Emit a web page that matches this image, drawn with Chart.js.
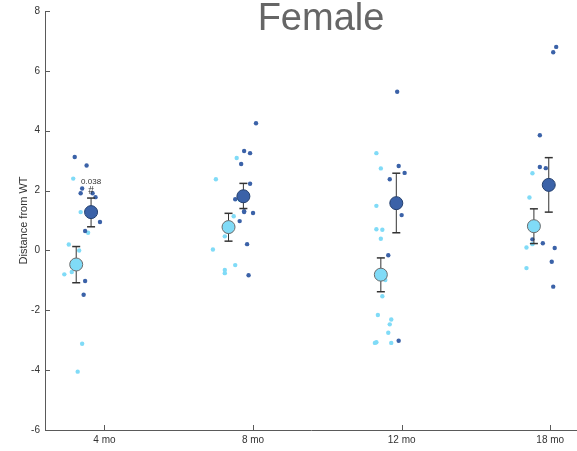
<!DOCTYPE html>
<html>
<head>
<meta charset="utf-8">
<script src="https://cdn.jsdelivr.net/npm/chart.js@4.4.0/dist/chart.umd.min.js"></script>
<style>
  html, body { margin: 0; padding: 0; background: #fff; }
  #wrap { position: relative; width: 577px; height: 451px; }
</style>
</head>
<body>
<div id="wrap"><canvas id="chart" width="577" height="451"></canvas></div>
<script>
/* ── Données ── */
const TITLE = 'Female';
const CATEGORIES = ['4 mo', '8 mo', '12 mo', '18 mo'];
const CATEGORY_POS = [1, 2, 3, 4];
const Y_TICKS = [-6, -4, -2, 0, 2, 4, 6, 8];

// individual animals, light series (x = jittered position)
const lightX = [0.79, 0.84, 0.89, 0.76, 0.83, 0.78, 0.73, 0.85, 0.82,
                1.89, 1.75, 1.91, 1.87, 1.81, 1.73, 1.88, 1.81, 1.81,
                2.83, 2.86, 2.83, 2.83, 2.87, 2.86, 2.89, 2.87, 2.84, 2.93, 2.92, 2.91, 2.82, 2.83, 2.93,
                3.88, 3.86, 3.88, 3.84, 3.84];
const lightY = [2.40, 1.28, 0.59, 0.20, 0.00, -0.72, -0.80, -3.12, -4.05,
                3.09, 2.38, 1.69, 1.14, 0.47, 0.03, -0.49, -0.65, -0.76,
                3.25, 2.74, 1.49, 0.71, 0.69, 0.39, -0.99, -1.53, -2.16, -2.31, -2.47, -2.75, -3.09, -3.07, -3.09,
                2.58, 1.77, 0.21, 0.10, -0.59];

// individual animals, dark series
const darkX = [0.80, 0.88, 0.85, 0.84, 0.92, 0.94, 0.97, 0.87, 0.87, 0.86,
               2.02, 1.94, 1.98, 1.92, 1.98, 1.88, 1.94, 1.94, 2.00, 1.91, 1.96, 1.97,
               2.97, 2.98, 3.02, 2.92, 3.00, 2.91, 2.98,
               4.04, 4.02, 3.93, 3.93, 3.97, 3.88, 3.95, 4.03, 4.01, 4.02];
const darkY = [3.12, 2.84, 2.07, 1.91, 1.91, 1.78, 0.95, 0.65, -1.02, -1.48,
               4.25, 3.32, 3.25, 2.89, 2.23, 1.71, 1.31, 1.28, 1.25, 0.98, 0.21, -0.83,
               5.30, 2.82, 2.59, 2.38, 1.18, -0.16, -3.02,
               6.80, 6.62, 3.85, 2.79, 2.75, 0.37, 0.24, 0.08, -0.38, -1.21];

// group means and error bars
const lightMeanX = [0.81, 1.835, 2.86, 3.89];
const lightMean  = [-0.47, 0.78, -0.81, 0.81];
const lightErrLo = [-1.08, 0.31, -1.38, 0.23];
const lightErrHi = [0.13, 1.24, -0.25, 1.39];

const darkMeanX = [0.91, 1.935, 2.964, 3.99];
const darkMean  = [1.28, 1.81, 1.58, 2.19];
const darkErrLo = [0.79, 1.40, 0.59, 1.28];
const darkErrHi = [1.75, 2.24, 2.58, 3.10];

// significance mark above the 4 mo dark group
const SIG_GROUP = 0;
const SIG_P = '0.038';
const SIG_MARK = '#';

const COLORS = {
  light: '#80dbf7',
  dark: '#3b62a8',
  lightEdge: '#6b6b6b',
  darkEdge: '#24406e',
  err: '#333333',
  axis: '#5a5a5a',
  text: '#333333',
  title: '#666666',
};

const FONT = '"Liberation Sans", Arial, sans-serif';

function points(xs, ys) {
  return xs.map((x, i) => ({ x, y: ys[i] }));
}

function errSegments(xs, lo, hi) {
  const pts = [];
  xs.forEach((x, i) => { pts.push({ x, y: lo[i] }, { x, y: hi[i] }, { x, y: null }); });
  return pts;
}

/* ── Petits traits de graduation vers l'intérieur + titre + annotation ── */
const extras = {
  id: 'extras',
  afterDraw(chart) {
    const { ctx, chartArea, scales: { x, y } } = chart;
    ctx.save();
    ctx.strokeStyle = COLORS.axis;
    ctx.lineWidth = 1;
    ctx.beginPath();
    x.ticks.forEach(t => {
      const px = Math.round(x.getPixelForValue(t.value)) + 0.5;
      ctx.moveTo(px, chartArea.bottom);
      ctx.lineTo(px, chartArea.bottom - 5);
    });
    y.ticks.forEach(t => {
      const py = Math.round(y.getPixelForValue(t.value)) + 0.5;
      ctx.moveTo(chartArea.left, py);
      ctx.lineTo(chartArea.left + 5, py);
    });
    ctx.stroke();

    // title, drawn over the plot like the original figure
    ctx.fillStyle = COLORS.title;
    ctx.font = '38px ' + FONT;
    ctx.textAlign = 'center';
    ctx.textBaseline = 'alphabetic';
    ctx.fillText(TITLE, 321, 30);

    // p-value and mark
    const sx = x.getPixelForValue(darkMeanX[SIG_GROUP]);
    const sy = y.getPixelForValue(darkErrHi[SIG_GROUP]);
    ctx.fillStyle = COLORS.text;
    ctx.textBaseline = 'middle';
    ctx.font = '8px ' + FONT;
    ctx.fillText(SIG_P, sx, sy - 16);
    ctx.font = '10px ' + FONT;
    ctx.fillText(SIG_MARK, sx, sy - 7);
    ctx.restore();
  }
};

new Chart(document.getElementById('chart'), {
  type: 'scatter',
  data: {
    datasets: [
      {
        label: 'mean light',
        data: points(lightMeanX, lightMean),
        backgroundColor: COLORS.light,
        borderColor: COLORS.lightEdge,
        borderWidth: 1,
        pointRadius: 6.5,
        order: 0,
      },
      {
        label: 'mean dark',
        data: points(darkMeanX, darkMean),
        backgroundColor: COLORS.dark,
        borderColor: COLORS.darkEdge,
        borderWidth: 1,
        pointRadius: 6.5,
        order: 0,
      },
      {
        label: 'err light',
        data: errSegments(lightMeanX, lightErrLo, lightErrHi),
        showLine: true,
        spanGaps: false,
        borderColor: COLORS.err,
        borderWidth: 1,
        pointStyle: 'line',
        pointRadius: 4,
        pointBorderColor: COLORS.err,
        pointBorderWidth: 1.5,
        order: 1,
      },
      {
        label: 'err dark',
        data: errSegments(darkMeanX, darkErrLo, darkErrHi),
        showLine: true,
        spanGaps: false,
        borderColor: COLORS.err,
        borderWidth: 1,
        pointStyle: 'line',
        pointRadius: 4,
        pointBorderColor: COLORS.err,
        pointBorderWidth: 1.5,
        order: 1,
      },
      {
        label: 'dark',
        data: points(darkX, darkY),
        backgroundColor: COLORS.dark,
        borderWidth: 0,
        pointRadius: 2.2,
        order: 2,
      },
      {
        label: 'light',
        data: points(lightX, lightY),
        backgroundColor: COLORS.light,
        borderWidth: 0,
        pointRadius: 2.2,
        order: 3,
      },
    ]
  },
  options: {
    responsive: false,
    animation: false,
    layout: { autoPadding: false, padding: { top: 10, right: 0, left: 0, bottom: 0 } },
    plugins: {
      legend: { display: false },
      tooltip: { enabled: false },
      title: { display: false },
    },
    scales: {
      x: {
        type: 'linear',
        min: 0.6,
        max: 4.18,
        afterBuildTicks: (s) => { s.ticks = CATEGORY_POS.map(v => ({ value: v })); },
        afterFit: (s) => { s.height = 21; },
        ticks: {
          callback: (v) => CATEGORIES[CATEGORY_POS.indexOf(v)] || '',
          color: COLORS.text,
          font: { family: FONT, size: 10 },
          padding: 4,
          maxRotation: 0,
        },
        grid: { drawOnChartArea: false, drawTicks: false },
        border: { color: COLORS.axis, width: 1 },
      },
      y: {
        min: -6,
        max: 8,
        afterBuildTicks: (s) => { s.ticks = Y_TICKS.map(v => ({ value: v })); },
        afterFit: (s) => { s.width = 45; },
        ticks: {
          color: COLORS.text,
          font: { family: FONT, size: 10 },
          padding: 5,
        },
        title: {
          display: true,
          text: 'Distance from WT',
          color: COLORS.text,
          font: { family: FONT, size: 11 },
          padding: { top: 17, bottom: 0 },
        },
        grid: { drawOnChartArea: false, drawTicks: false },
        border: { color: COLORS.axis, width: 1 },
      }
    }
  },
  plugins: [extras]
});
</script>
</body>
</html>
